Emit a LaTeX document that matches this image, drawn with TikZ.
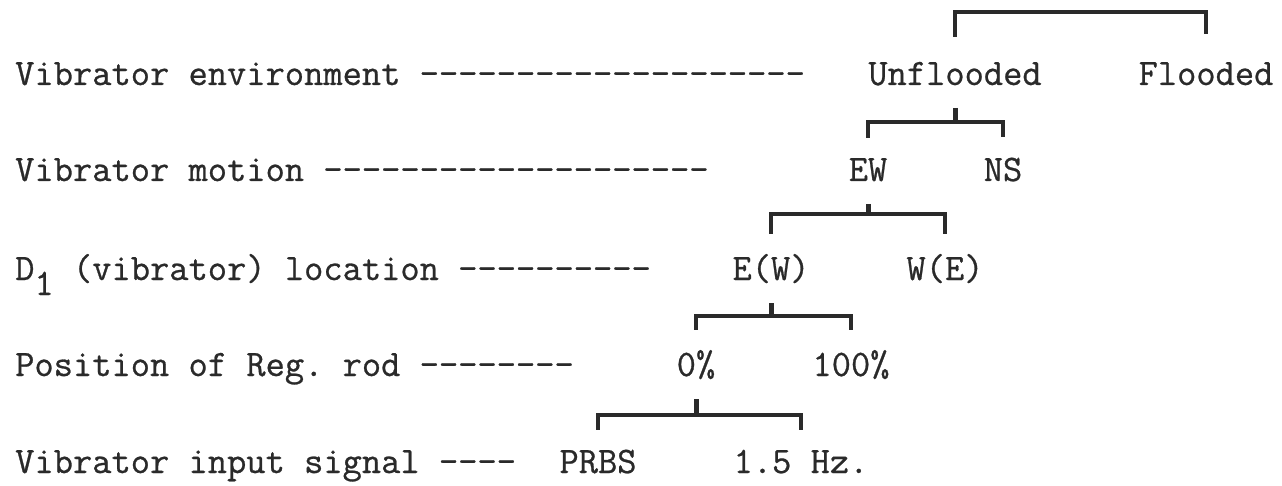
\documentclass[tikz,border=0pt]{standalone}
\usepackage{fontspec}
\setmonofont{Latin Modern Mono}[FakeBold=0.7]
\usetikzlibrary{positioning}
\definecolor{cInk}{HTML}{2A2A2A}
\newcommand{\tw}{\ttfamily\fontsize{37.4}{42}\selectfont}
\tikzset{
  lvl/.style={anchor=base west, inner sep=0pt, font=\tw, text=cInk},
  opt/.style={anchor=base, inner sep=0pt, font=\tw, text=cInk},
  bar/.style={draw=cInk, line width=3.2pt},
  stem/.style={draw=cInk, line width=5pt},
}

\begin{document}
\begin{tikzpicture}[x=1pt, y=-1pt]
  \useasboundingbox (0,0) rectangle (1282,486);

  % ---- factor names, one per row
  \node[lvl] (env) at (15,85)  {Vibrator environment --------------------};
  \node[lvl] (mot) at (15,181) {Vibrator motion --------------------};
  \node[lvl] (loc) at (15,280) {D\raisebox{-15pt}{1} (vibrator) location ----------};
  \node[lvl] (rod) at (15,376) {Position of Reg.\ rod --------};
  \node[lvl] (sig) at (15,473) {Vibrator input signal ----};

  % ---- levels of each factor
  \node[opt] (unfl) at (955,85)  {Unflooded};
  \node[opt] (flod) at (1206,85) {Flooded};
  \node[opt] (ew)   at (868,181) {EW};
  \node[opt] (ns)   at (1003,181) {NS};
  \node[opt] (east) at (771,280) {E(W)};
  \node[opt] (west) at (945,280) {W(E)};
  \node[opt] (zero) at (696,376) {0\%};
  \node[opt] (full) at (851,376) {100\%};
  \node[opt] (prbs) at (598,473) {PRBS};
  \node[opt] (sine) at (801,473) {1.5 Hz.};

  % ---- brackets
  \draw[bar] ([yshift=25pt]unfl.north) |- (flod.north |- 0,12) -- ([yshift=28pt]flod.north);
  \foreach \p/\l/\r/\y in {unfl/ew/ns/122, ew/east/west/214, east/zero/full/316, zero/prbs/sine/415} {
    \draw[stem] ([yshift=-23pt]\p.base) -- (\p.base |- 0,\y);
    \draw[bar] ([yshift=20pt]\l.north) |- (\r.north |- 0,\y) -- ([yshift=20pt]\r.north);
  }
\end{tikzpicture}
\end{document}
